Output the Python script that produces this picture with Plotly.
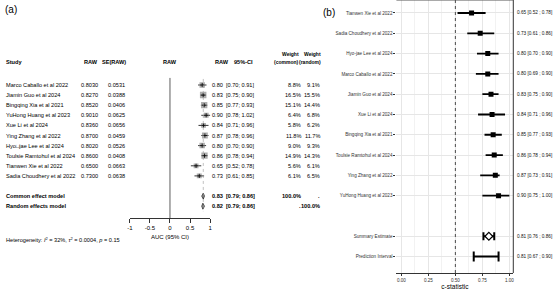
import plotly.graph_objects as go

# ---------------- Panel (a) data ----------------
studies_a = ["Marco Caballo et al 2022", "Jiamin Guo et al 2024", "Bingqing Xia et al 2021",
             "YuHong Huang et al 2023", "Xue Li et al 2024", "Ying Zhang et al 2022",
             "Hyo\u25a1jae Lee et al 2024", "Toulsie Ramtohul et al 2024", "Tianwen Xie et al 2022",
             "Sadia Choudhery et al 2022"]
raw_a = [0.8030, 0.8270, 0.8520, 0.9010, 0.8360, 0.8700, 0.8020, 0.8600, 0.6500, 0.7300]
se_a = [0.0531, 0.0388, 0.0406, 0.0625, 0.0656, 0.0459, 0.0526, 0.0408, 0.0663, 0.0638]
lo_a = [0.70, 0.75, 0.77, 0.78, 0.71, 0.78, 0.70, 0.78, 0.52, 0.61]
hi_a = [0.91, 0.90, 0.93, 1.02, 0.96, 0.96, 0.90, 0.94, 0.78, 0.85]
w_common = [8.8, 16.5, 15.1, 6.4, 5.8, 11.8, 9.0, 14.9, 5.6, 6.1]
w_random = [9.1, 15.5, 14.4, 6.8, 6.2, 11.7, 9.3, 14.3, 6.1, 6.5]
pooled_names = ["Common effect model", "Random effects model"]
pooled_est = [0.83, 0.82]
pooled_lo = [0.79, 0.79]
pooled_hi = [0.86, 0.86]
pooled_wc = ["100.0%", "."]
pooled_wr = [".", "100.0%"]
axis_a_ticks = [-1, -0.5, 0, 0.5, 1]
axis_a_ticktext = ["-1", "-0.5", "0", "0.5", "1"]
hetero_text = "Heterogeneity: <i>I</i><sup>2</sup> = 32%, <i>\u03c4</i><sup>2</sup> = 0.0004, <i>p</i> = 0.15"

# ---------------- Panel (b) data ----------------
studies_b = ["Tianwen Xie et al 2022", "Sadia Choudhery et al 2022", "Hyo-jae Lee et al 2024",
             "Marco Caballo et al 2022", "Jiamin Guo et al 2024", "Xue Li et al 2024",
             "Bingqing Xia et al 2021", "Toulsie Ramtohul et al 2024", "Ying Zhang et al 2022",
             "YuHong Huang et al 2023"]
est_b = [0.65, 0.73, 0.80, 0.80, 0.83, 0.84, 0.85, 0.86, 0.87, 0.90]
lo_b = [0.52, 0.61, 0.70, 0.69, 0.75, 0.71, 0.77, 0.78, 0.73, 0.75]
hi_b = [0.78, 0.86, 0.90, 0.90, 0.90, 0.96, 0.93, 0.94, 0.91, 1.00]
summary_b = ["Summary Estimate", 0.81, 0.76, 0.86]
predint_b = ["Prediction Interval", 0.81, 0.67, 0.90]
axis_b_ticks = [0.0, 0.25, 0.5, 0.75, 1.0]
axis_b_ticktext = ["0.00", "0.25", "0.50", "0.75", "1.00"]

W, H = 554, 291
FA = "Liberation Sans, Arial"
FB = "Liberation Sans, Arial"
SA = 5.6

fig = go.Figure()

row0_px, row_step = 85.0, 10.1
axis_a_px = 218.0


def px_y(p):
    return 1 - p / H


def px_x(p):
    return p / W


rows_a = list(range(len(studies_a)))
rows_pool = [len(studies_a) + 1, len(studies_a) + 2]
ya_top = (0 - row0_px) / row_step
ya_bot = (axis_a_px - row0_px) / row_step

# study squares + CIs
fig.add_trace(go.Scatter(
    x=raw_a, y=rows_a, mode="markers", xaxis="x", yaxis="y",
    marker=dict(symbol="square", color="#8c8c8c", size=[2.5 + 4.0 * (w / max(w_common)) ** 0.5 for w in w_common],
                line=dict(width=0)),
    error_x=dict(type="data", symmetric=False,
                 array=[h - r for h, r in zip(hi_a, raw_a)],
                 arrayminus=[r - l for r, l in zip(raw_a, lo_a)],
                 thickness=0.8, width=0, color="black"),
    showlegend=False, hoverinfo="skip"))
fig.add_trace(go.Scatter(
    x=raw_a, y=rows_a, mode="markers", xaxis="x", yaxis="y",
    marker=dict(symbol="cross-thin", size=3, line=dict(width=0.8, color="black")),
    showlegend=False, hoverinfo="skip"))

# pooled diamonds
for k in range(2):
    r = rows_pool[k]
    fig.add_trace(go.Scatter(
        x=[pooled_lo[k], pooled_est[k], pooled_hi[k], pooled_est[k], pooled_lo[k]],
        y=[r, r - 0.3, r, r + 0.3, r], mode="lines", fill="toself",
        fillcolor="#8c8c8c", line=dict(color="black", width=0.6),
        xaxis="x", yaxis="y", showlegend=False, hoverinfo="skip"))

# ---------- panel (b) traces ----------
rows_b = list(range(len(studies_b)))
row_sum = len(studies_b) + 1
row_pred = len(studies_b) + 2

fig.add_trace(go.Scatter(
    x=est_b, y=rows_b, mode="markers", xaxis="x2", yaxis="y2",
    marker=dict(symbol="square", color="black", size=5),
    error_x=dict(type="data", symmetric=False,
                 array=[h - e for h, e in zip(hi_b, est_b)],
                 arrayminus=[e - l for e, l in zip(est_b, lo_b)],
                 thickness=1.8, width=0, color="black"),
    showlegend=False, hoverinfo="skip"))
fig.add_trace(go.Scatter(
    x=[predint_b[1]], y=[row_pred], mode="markers", xaxis="x2", yaxis="y2",
    marker=dict(symbol="square", color="rgba(0,0,0,0)", size=2),
    error_x=dict(type="data", symmetric=False,
                 array=[predint_b[3] - predint_b[1]], arrayminus=[predint_b[1] - predint_b[2]],
                 thickness=2, width=5, color="black"),
    showlegend=False, hoverinfo="skip"))
fig.add_trace(go.Scatter(
    x=[summary_b[1]], y=[row_sum], mode="markers", xaxis="x2", yaxis="y2",
    marker=dict(symbol="diamond", color="white", size=6, line=dict(color="black", width=1.2)),
    error_x=dict(type="data", symmetric=False,
                 array=[summary_b[3] - summary_b[1]], arrayminus=[summary_b[1] - summary_b[2]],
                 thickness=2, width=4, color="black"),
    showlegend=False, hoverinfo="skip"))

labels_b = studies_b + [summary_b[0], predint_b[0]]
rows_b_all = rows_b + [row_sum, row_pred]
vals_b = list(zip(est_b, lo_b, hi_b)) + [tuple(summary_b[1:]), tuple(predint_b[1:])]

annotations = []


def txt(x, y, s, anchor="left", size=SA, bold=False, xref="paper", yref="paper", family=FA, color="black"):
    annotations.append(dict(x=x, y=y, xref=xref, yref=yref, text=("<b>%s</b>" % s) if bold else s,
                            showarrow=False, xanchor=anchor, yanchor="middle", borderpad=0,
                            font=dict(size=size, family=family, color=color)))


# panel (a) texts
txt(px_x(1), px_y(9), "(a)", size=10)
hdr = (62 - row0_px) / row_step
hdr2 = (54 - row0_px) / row_step
txt(px_x(2), hdr, "Study", bold=True, yref="y")
txt(px_x(97), hdr, "RAW", "right", bold=True, yref="y")
txt(px_x(125), hdr, "SE(RAW)", "right", bold=True, yref="y")
txt(px_x(169), hdr, "RAW", "center", bold=True, yref="y")
txt(px_x(221), hdr, "RAW", "center", bold=True, yref="y")
txt(px_x(243), hdr, "95%-CI", "center", bold=True, yref="y")
txt(px_x(300), hdr2, "Weight", "right", size=5, bold=True, yref="y")
txt(px_x(299.5), hdr, "(common)", "right", size=5, bold=True, yref="y")
txt(px_x(322), hdr2, "Weight", "right", size=5, bold=True, yref="y")
txt(px_x(322), hdr, "(random)", "right", size=5, bold=True, yref="y")

for i, r in enumerate(rows_a):
    txt(px_x(2), r, studies_a[i], yref="y")
    txt(px_x(97), r, "%.4f" % raw_a[i], "right", yref="y")
    txt(px_x(124), r, "%.4f" % se_a[i], "right", yref="y")
    txt(px_x(223), r, "%.2f" % raw_a[i], "right", yref="y")
    txt(px_x(224.5), r, "[%.2f; %.2f]" % (lo_a[i], hi_a[i]), "left", yref="y")
    txt(px_x(302), r, "%.1f%%" % w_common[i], "right", yref="y")
    txt(px_x(321), r, "%.1f%%" % w_random[i], "right", yref="y")

for k, r in enumerate(rows_pool):
    txt(px_x(2), r, pooled_names[k], bold=True, yref="y")
    txt(px_x(223), r, "%.2f" % pooled_est[k], "right", bold=True, yref="y")
    txt(px_x(224.5), r, "[%.2f; %.2f]" % (pooled_lo[k], pooled_hi[k]), "left", bold=True, yref="y")
    txt(px_x(302), r, pooled_wc[k], "right", bold=True, yref="y")
    txt(px_x(321), r, pooled_wr[k], "right", bold=True, yref="y")

txt(px_x(2), px_y(239), hetero_text)

# panel (b) texts
txt(px_x(322), px_y(13), "(b)", size=10)
for lab, r, v in zip(labels_b, rows_b_all, vals_b):
    txt(px_x(518), r, "%.2f [%.2f ; %.2f]" % v, "left", size=4.7, yref="y2", family=FB, color="#111")

fig.update_layout(annotations=annotations)

shapes = [
    dict(type="line", xref="x", yref="y", x0=0, x1=0, y0=-0.7, y1=ya_bot, line=dict(color="#333", width=0.8)),
    dict(type="line", xref="x", yref="y", x0=pooled_est[0], x1=pooled_est[0], y0=-0.6, y1=rows_pool[1] + 0.5,
         line=dict(color="#999", width=0.6, dash="dot")),
    dict(type="line", xref="x2", yref="y2 domain", x0=0.5, x1=0.5, y0=0, y1=1,
         line=dict(color="#222", width=0.8, dash="dot")),
    dict(type="line", xref="x2 domain", yref="y2 domain", x0=0, x1=1, y0=1, y1=1, line=dict(color="#555", width=1.2)),
    dict(type="line", xref="x2 domain", yref="y2 domain", x0=1, x1=1, y0=0, y1=1, line=dict(color="#555", width=1.2)),
]
fig.update_layout(shapes=shapes)

yb_lo_px = 273.0
fig.update_layout(
    width=W, height=H, margin=dict(l=0, r=0, t=0, b=0),
    paper_bgcolor="white", plot_bgcolor="white", showlegend=False,
    xaxis=dict(domain=[px_x(128), px_x(209)], range=[-1, 1], anchor="y",
               tickvals=axis_a_ticks, ticktext=axis_a_ticktext, ticks="outside", ticklen=4,
               tickwidth=0.8, tickcolor="#333", showline=True, linecolor="#333", linewidth=0.8,
               showgrid=False, zeroline=False, tickfont=dict(size=6, family=FA, color="black"),
               title=dict(text="AUC (95% CI)", font=dict(size=6, family=FA, color="black"), standoff=4)),
    yaxis=dict(domain=[px_y(axis_a_px), 1], range=[ya_bot, ya_top], visible=False, anchor="x"),
    xaxis2=dict(domain=[px_x(397), px_x(515)], range=[-0.046, 1.037], anchor="y2",
                tickvals=axis_b_ticks, ticktext=axis_b_ticktext, ticks="outside", ticklen=2,
                tickcolor="#333", showline=True, linecolor="#333", linewidth=1,
                showgrid=True, gridcolor="#e6e6e6", gridwidth=0.6, zeroline=False,
                minor=dict(tickvals=[0.125, 0.375, 0.625, 0.875], showgrid=True, gridcolor="#f2f2f2", gridwidth=0.5),
                tickfont=dict(size=4.6, family=FB, color="#333"),
                title=dict(text="c-statistic", font=dict(size=6.5, family=FB, color="black"), standoff=1)),
    yaxis2=dict(domain=[px_y(yb_lo_px), 1], range=[12.81, -0.64], anchor="x2",
                tickvals=rows_b_all, ticktext=labels_b, ticks="outside", ticklen=2, tickcolor="#333",
                showline=False, showgrid=True, gridcolor="#e6e6e6", gridwidth=0.6, zeroline=False,
                tickfont=dict(size=4.6, family=FB, color="#333")),
)

fig.write_html("out.html")
